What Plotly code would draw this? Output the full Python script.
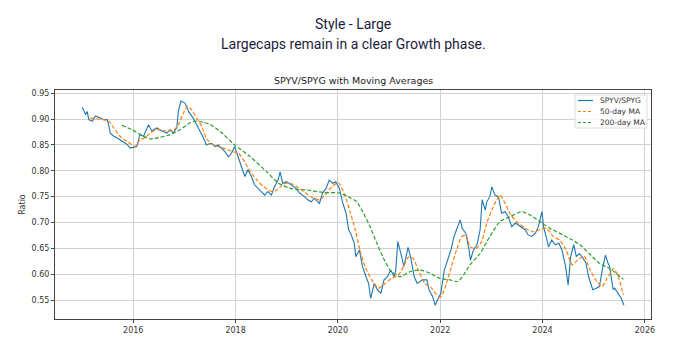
import plotly.graph_objects as go
import pandas as pd

# ---- data (decimal years, ratio values) ----
ratio_t = [2015.00, 2015.07, 2015.10, 2015.13, 2015.20, 2015.26, 2015.36, 2015.42, 2015.49, 2015.52,
           2015.55, 2015.62, 2015.68, 2015.74, 2015.81, 2015.88, 2015.94, 2016.00, 2016.07, 2016.13,
           2016.20, 2016.30, 2016.36, 2016.46, 2016.56, 2016.66, 2016.72, 2016.78, 2016.85, 2016.88,
           2016.93, 2017.01, 2017.08, 2017.17, 2017.24, 2017.30, 2017.37, 2017.43, 2017.47, 2017.53,
           2017.60, 2017.66, 2017.73, 2017.79, 2017.86, 2017.92, 2017.98, 2018.05, 2018.11, 2018.18,
           2018.24, 2018.31, 2018.37, 2018.44, 2018.50, 2018.57, 2018.63, 2018.70, 2018.76, 2018.83,
           2018.87, 2018.92, 2019.00, 2019.09, 2019.18, 2019.25, 2019.35, 2019.41, 2019.48, 2019.54,
           2019.61, 2019.64, 2019.70, 2019.77, 2019.83, 2019.90, 2019.96, 2020.03, 2020.09, 2020.16,
           2020.21, 2020.25, 2020.32, 2020.35, 2020.42, 2020.48, 2020.55, 2020.60, 2020.64, 2020.71,
           2020.77, 2020.84, 2020.90, 2020.97, 2021.03, 2021.10, 2021.13, 2021.17, 2021.23, 2021.29,
           2021.37, 2021.42, 2021.49, 2021.55, 2021.65, 2021.74, 2021.78, 2021.85, 2021.90, 2021.95,
           2022.01, 2022.08, 2022.14, 2022.21, 2022.27, 2022.34, 2022.39, 2022.43, 2022.50, 2022.56,
           2022.59, 2022.65, 2022.72, 2022.78, 2022.82, 2022.88, 2022.91, 2022.97, 2023.01, 2023.07,
           2023.14, 2023.20, 2023.27, 2023.33, 2023.40, 2023.47, 2023.53, 2023.59, 2023.66, 2023.72,
           2023.79, 2023.86, 2023.92, 2023.99, 2024.02, 2024.07, 2024.12, 2024.18, 2024.25, 2024.32,
           2024.38, 2024.45, 2024.50, 2024.55, 2024.61, 2024.66, 2024.72, 2024.79, 2024.85, 2024.90,
           2024.95, 2024.98, 2025.05, 2025.11, 2025.18, 2025.23, 2025.28, 2025.31, 2025.35, 2025.38,
           2025.41, 2025.48, 2025.54, 2025.59]
ratio_v = [0.923, 0.909, 0.915, 0.899, 0.896, 0.906, 0.902, 0.899, 0.899, 0.889,
           0.873, 0.867, 0.864, 0.860, 0.854, 0.851, 0.844, 0.846, 0.847, 0.870,
           0.867, 0.889, 0.877, 0.883, 0.877, 0.873, 0.880, 0.873, 0.883, 0.915,
           0.935, 0.931, 0.915, 0.902, 0.889, 0.877, 0.864, 0.850, 0.852, 0.853,
           0.847, 0.850, 0.844, 0.837, 0.827, 0.834, 0.847, 0.827, 0.808, 0.789,
           0.802, 0.789, 0.773, 0.766, 0.760, 0.753, 0.760, 0.753, 0.769, 0.782,
           0.798, 0.776, 0.779, 0.773, 0.766, 0.757, 0.750, 0.744, 0.740, 0.747,
           0.740, 0.737, 0.757, 0.766, 0.782, 0.776, 0.779, 0.766, 0.740, 0.718,
           0.686, 0.679, 0.660, 0.634, 0.647, 0.615, 0.595, 0.582, 0.553, 0.582,
           0.570, 0.563, 0.589, 0.595, 0.608, 0.595, 0.608, 0.663, 0.640, 0.615,
           0.652, 0.634, 0.595, 0.582, 0.589, 0.589, 0.570, 0.557, 0.540, 0.550,
           0.563, 0.608, 0.627, 0.647, 0.673, 0.692, 0.705, 0.689, 0.679, 0.650,
           0.627, 0.647, 0.657, 0.686, 0.744, 0.724, 0.740, 0.750, 0.769, 0.753,
           0.750, 0.718, 0.721, 0.711, 0.692, 0.699, 0.695, 0.692, 0.686, 0.676,
           0.673, 0.679, 0.692, 0.721, 0.692, 0.673, 0.653, 0.666, 0.657, 0.660,
           0.647, 0.615, 0.579, 0.634, 0.657, 0.634, 0.640, 0.631, 0.621, 0.595,
           0.579, 0.570, 0.573, 0.576, 0.615, 0.637, 0.621, 0.615, 0.589, 0.570,
           0.573, 0.563, 0.553, 0.540]

ma50_t = [2015.16, 2015.42, 2015.52, 2015.62, 2015.74, 2015.88, 2016.04, 2016.13, 2016.23, 2016.33,
          2016.46, 2016.62, 2016.78, 2016.88, 2016.98, 2017.06, 2017.14, 2017.24, 2017.34, 2017.43,
          2017.57, 2017.76, 2017.96, 2018.06, 2018.19, 2018.29, 2018.42, 2018.55, 2018.71, 2018.81,
          2018.94, 2019.07, 2019.20, 2019.33, 2019.52, 2019.65, 2019.75, 2019.88, 2020.01, 2020.14,
          2020.24, 2020.34, 2020.43, 2020.53, 2020.66, 2020.79, 2020.92, 2021.05, 2021.18, 2021.28,
          2021.38, 2021.47, 2021.57, 2021.70, 2021.83, 2021.96, 2022.02, 2022.12, 2022.22, 2022.32,
          2022.42, 2022.51, 2022.58, 2022.71, 2022.81, 2022.91, 2023.04, 2023.17, 2023.27, 2023.36,
          2023.49, 2023.66, 2023.82, 2023.95, 2024.08, 2024.21, 2024.34, 2024.47, 2024.58, 2024.68,
          2024.81, 2024.93, 2025.06, 2025.16, 2025.26, 2025.39, 2025.48, 2025.58]
ma50_v = [0.902, 0.899, 0.896, 0.883, 0.867, 0.857, 0.847, 0.860, 0.864, 0.873,
          0.880, 0.877, 0.878, 0.889, 0.912, 0.925, 0.918, 0.902, 0.886, 0.862,
          0.850, 0.844, 0.837, 0.834, 0.815, 0.798, 0.782, 0.769, 0.760, 0.763,
          0.775, 0.776, 0.769, 0.760, 0.747, 0.744, 0.753, 0.769, 0.777, 0.752,
          0.720, 0.686, 0.647, 0.615, 0.589, 0.573, 0.582, 0.592, 0.598, 0.615,
          0.633, 0.631, 0.608, 0.582, 0.573, 0.557, 0.557, 0.582, 0.615, 0.647,
          0.673, 0.675, 0.653, 0.650, 0.663, 0.699, 0.731, 0.753, 0.737, 0.718,
          0.702, 0.689, 0.682, 0.686, 0.689, 0.673, 0.666, 0.645, 0.618, 0.627,
          0.635, 0.608, 0.586, 0.576, 0.592, 0.611, 0.595, 0.560]

ma200_t = [2015.78, 2015.97, 2016.14, 2016.33, 2016.53, 2016.72, 2016.92, 2017.11, 2017.21, 2017.37,
           2017.50, 2017.70, 2017.96, 2018.29, 2018.61, 2018.84, 2019.07, 2019.39, 2019.72, 2020.04,
           2020.24, 2020.37, 2020.50, 2020.63, 2020.76, 2020.89, 2021.02, 2021.21, 2021.41, 2021.60,
           2021.80, 2021.99, 2022.19, 2022.35, 2022.48, 2022.58, 2022.78, 2022.97, 2023.17, 2023.36,
           2023.59, 2023.75, 2023.95, 2024.14, 2024.34, 2024.53, 2024.73, 2024.92, 2025.11, 2025.31,
           2025.58]
ma200_v = [0.888, 0.880, 0.870, 0.862, 0.865, 0.870, 0.880, 0.893, 0.896, 0.894,
           0.890, 0.876, 0.852, 0.827, 0.798, 0.776, 0.766, 0.763, 0.758, 0.757,
           0.748, 0.740, 0.718, 0.692, 0.660, 0.631, 0.608, 0.595, 0.605, 0.608,
           0.602, 0.592, 0.589, 0.586, 0.602, 0.618, 0.640, 0.673, 0.702, 0.711,
           0.721, 0.715, 0.702, 0.689, 0.679, 0.669, 0.657, 0.639, 0.621, 0.611,
           0.590]

series_names = ["SPYV/SPYG", "50-day MA", "200-day MA"]
series_colors = ["#1f77b4", "#ff7f0e", "#2ca02c"]
x_ticks = [2016, 2018, 2020, 2022, 2024, 2026]
y_ticks = [0.55, 0.60, 0.65, 0.70, 0.75, 0.80, 0.85, 0.90, 0.95]

W, H = 678, 351
ML, MR, MT, MB = 55, 27, 90, 32
PW, PH = W - ML - MR, H - MT - MB


def to_date(y):
    year = int(y)
    start = pd.Timestamp(year=year, month=1, day=1)
    end = pd.Timestamp(year=year + 1, month=1, day=1)
    return start + (end - start) * (y - year)


def px(x):  # pixel -> paper x
    return (x - ML) / PW


def py(y):  # pixel -> paper y
    return (H - MB - y) / PH


ratio_d = [to_date(t) for t in ratio_t]
ma50_d = [to_date(t) for t in ma50_t]
ma200_d = [to_date(t) for t in ma200_t]

fig = go.Figure()
fig.add_trace(go.Scatter(x=ratio_d, y=ratio_v, mode="lines", name=series_names[0],
                         line=dict(color=series_colors[0], width=1.1)))
fig.add_trace(go.Scatter(x=ma50_d, y=ma50_v, mode="lines", name=series_names[1],
                         line=dict(color=series_colors[1], width=1.2, dash="4px,2px",
                                   shape="spline", smoothing=0.6)))
fig.add_trace(go.Scatter(x=ma200_d, y=ma200_v, mode="lines", name=series_names[2],
                         line=dict(color=series_colors[2], width=1.2, dash="4px,2px",
                                   shape="spline", smoothing=0.6)))

title_font = dict(family="Roboto", size=14, color="#1c1c3c")
annotations = [
    dict(text="Style - Large", x=0.5, y=py(24), xref="paper", yref="paper", yanchor="middle",
         showarrow=False, font=title_font),
    dict(text="Largecaps remain in a clear Growth phase.", x=0.5, y=py(44), xref="paper",
         yref="paper", yanchor="middle", showarrow=False, font=title_font),
    dict(text="SPYV/SPYG with Moving Averages", x=0.5, y=1.0, xref="paper", yref="paper",
         yanchor="bottom", yshift=2, showarrow=False,
         font=dict(family="DejaVu Sans", size=9.5, color="#222222")),
]

# compact matplotlib-like legend (box, line samples, labels)
shapes = [dict(type="rect", xref="paper", yref="paper", x0=px(575), x1=px(647), y0=py(128), y1=py(95),
               line=dict(color="#dddddd", width=1), fillcolor="rgba(255,255,255,0.85)", layer="above")]
rows = [100.5, 111.5, 122.5]
dashes = ["solid", "3px,2px", "3px,2px"]
for name, color, dash, ry in zip(series_names, series_colors, dashes, rows):
    shapes.append(dict(type="line", xref="paper", yref="paper", x0=px(578), x1=px(593), y0=py(ry), y1=py(ry),
                       line=dict(color=color, width=1.2, dash=dash), layer="above"))
    annotations.append(dict(text=name, x=px(598), y=py(ry), xref="paper", yref="paper", xanchor="left",
                            yanchor="middle", showarrow=False,
                            font=dict(family="DejaVu Sans", size=7.5, color="#333333")))

tick_font = dict(family="DejaVu Sans", size=8, color="#333333")
fig.update_layout(
    width=W, height=H,
    margin=dict(l=ML, r=MR, t=MT, b=MB),
    paper_bgcolor="white", plot_bgcolor="white",
    showlegend=False,
    annotations=annotations,
    shapes=shapes,
)

fig.update_xaxes(
    type="date",
    range=[to_date(2014.47), to_date(2026.12)],
    tickvals=[to_date(t) for t in x_ticks], ticktext=[str(t) for t in x_ticks],
    showgrid=True, gridcolor="#d2d2d2", gridwidth=1,
    showline=True, linecolor="#444444", linewidth=1, mirror=True,
    ticks="outside", ticklen=3, tickcolor="#444444", tickfont=tick_font,
    zeroline=False,
)
fig.update_yaxes(
    range=[0.5133, 0.9564],
    tickvals=y_ticks, ticktext=[f"{v:.2f}" for v in y_ticks],
    showgrid=True, gridcolor="#d2d2d2", gridwidth=1,
    showline=True, linecolor="#444444", linewidth=1, mirror=True,
    ticks="outside", ticklen=3, tickcolor="#444444", tickfont=tick_font,
    title=dict(text="Ratio", font=dict(family="DejaVu Sans", size=8, color="#333333"), standoff=4),
    zeroline=False,
)

fig.write_html("out.html")
